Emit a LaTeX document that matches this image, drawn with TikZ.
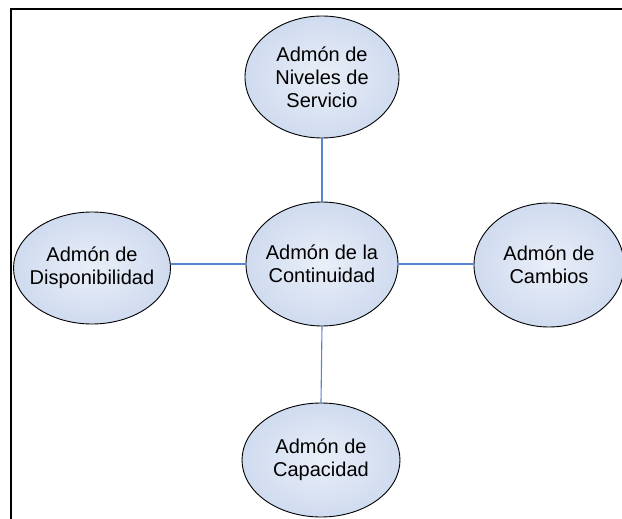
\documentclass[tikz,border=0pt]{standalone}
\usepackage{fontspec}
\setmainfont{Liberation Sans}
\usetikzlibrary{shapes.geometric}
\definecolor{bubblein}{RGB}{234,239,248}
\definecolor{bubblemid}{RGB}{206,218,239}
\definecolor{bubbleout}{RGB}{164,186,223}
\definecolor{linkblue}{RGB}{88,134,206}
\pgfdeclareradialshading{bubbleshade}{\pgfpoint{0bp}{0bp}}{%
  color(0bp)=(bubblein); color(26bp)=(bubblemid);
  color(48bp)=(bubbleout); color(60bp)=(bubbleout)}
\tikzset{
  bubble/.style={ellipse, draw=black, line width=0.9pt, inner sep=0pt,
    shading=bubbleshade},
  caption/.style={align=center, inner sep=0pt,
    font=\fontsize{20}{23}\selectfont},
  link/.style={draw=linkblue, line width=1.1pt},
  frameline/.style={draw=black, line width=2.2pt}
}
\begin{document}
\begin{tikzpicture}[x=1pt, y=-1pt]
  \useasboundingbox (0,0) rectangle (622,519);
  % outer frame (top and left edges)
  \coordinate (fa) at (11,519);
  \coordinate (fb) at (11,9);
  \coordinate (fc) at (622,9);
  \draw[frameline] (fa) -- (fb) -- (fc);

  % process bubbles
  \node[bubble, minimum width=154, minimum height=122] (niveles) at (322,77) {};
  \node[bubble, minimum width=152, minimum height=124] (continuidad) at (322,264) {};
  \node[bubble, minimum width=157, minimum height=112] (disp) at (92,268) {};
  \node[bubble, minimum width=150, minimum height=124] (cambios) at (549,265) {};
  \node[bubble, minimum width=158, minimum height=114] (capacidad) at (321,460) {};

  % bubble captions
  \node[caption] (tniveles) at (niveles) {Admón de\\Niveles de\\Servicio};
  \node[caption] (tcontinuidad) at (continuidad) {Admón de la\\Continuidad};
  \node[caption] (tdisp) at (disp) {Admón de\\Disponibilidad};
  \node[caption] (tcambios) at (cambios) {Admón de\\Cambios};
  \node[caption] (tcapacidad) at (capacidad) {Admón de\\Capacidad};

  % links from the central bubble
  \path[link] (continuidad.north) -- (niveles.south);
  \path[link] (continuidad.south) -- (capacidad.north);
  \path[link] (continuidad.west) -- (continuidad.west -| disp.east);
  \path[link] (continuidad.east) -- (continuidad.east -| cambios.west);
\end{tikzpicture}
\end{document}
